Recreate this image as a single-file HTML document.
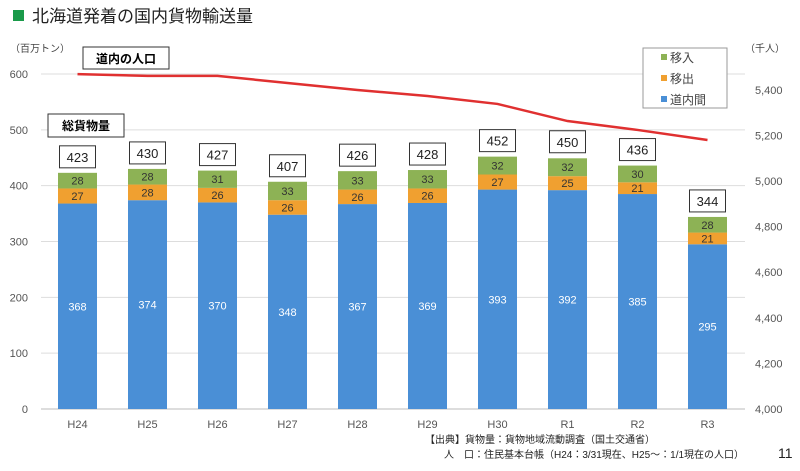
<!DOCTYPE html>
<html><head><meta charset="utf-8"><style>
body{margin:0;background:#fff;font-family:"Liberation Sans","Noto Sans CJK JP",sans-serif}
svg text{font-family:"Liberation Sans","Noto Sans CJK JP",sans-serif}
</style></head><body>
<svg id="c" width="800" height="466" xmlns="http://www.w3.org/2000/svg">
<rect x="13" y="10" width="11" height="11" fill="#1a9a4a"/>
<text x="32" y="22" font-size="17" fill="#222">北海道発着の国内貨物輸送量</text>
<text x="10" y="52" font-size="10" fill="#444">（百万トン）</text>
<text x="745" y="52" font-size="10" fill="#444">（千人）</text>
<g id="grid"></g><g id="bars"></g><g id="line"></g><g id="labels"></g>
<rect x="83" y="47" width="86" height="22" fill="#fff" stroke="#333"/>
<text x="126" y="63" font-size="12" font-weight="bold" text-anchor="middle">道内の人口</text>
<rect x="48" y="114" width="76" height="23" fill="#fff" stroke="#333"/>
<text x="86" y="130" font-size="12" font-weight="bold" text-anchor="middle">総貨物量</text>
<g>
<rect x="643" y="48" width="84" height="60" fill="#fff" stroke="#999"/>
<rect x="661" y="54" width="6" height="6" fill="#8db255"/><text x="670" y="62" font-size="12" fill="#444">移入</text>
<rect x="661" y="75" width="6" height="6" fill="#f0a030"/><text x="670" y="83" font-size="12" fill="#444">移出</text>
<rect x="661" y="96" width="6" height="6" fill="#4a8fd6"/><text x="670" y="104" font-size="12" fill="#444">道内間</text>
</g>
<text x="425" y="443" font-size="10" fill="#222">【出典】貨物量：貨物地域流動調査（国土交通省）</text>
<text x="444" y="458" font-size="10" fill="#222">人　口：住民基本台帳（H24：3/31現在、H25～：1/1現在の人口）</text>
<text x="778" y="458" font-size="14" fill="#222">11</text>
</svg>
<script>
const categories=["H24","H25","H26","H27","H28","H29","H30","R1","R2","R3"];
const inner=[368,374,370,348,367,369,393,392,385,295];
const outbound=[27,28,26,26,26,26,27,25,21,21];
const inbound=[28,28,31,33,33,33,32,32,30,28];
const totals=[423,430,427,407,426,428,452,450,436,344];
const population=[5469,5461,5461,5430,5399,5373,5338,5263,5224,5180];
const leftTicks=[0,100,200,300,400,500,600];
const rightTicks=[4000,4200,4400,4600,4800,5000,5200,5400];
const NS="http://www.w3.org/2000/svg";
const x0=42.5,band=70,bw=39;
const xc=i=>x0+band*(i+0.5);
const yL=v=>409-v*335/600;
const yR=v=>409-(v-4000)*45.6/200;
function mk(t,a,p){const e=document.createElementNS(NS,t);for(const k in a)e.setAttribute(k,a[k]);p.appendChild(e);return e;}
const g=document.getElementById('grid');
leftTicks.forEach(v=>{
 const l=mk('line',{x1:41,x2:745,y1:yL(v),y2:yL(v),stroke:v?'#ddd':'#bbb'},g);
 
 
 const t=mk('text',{x:28,y:yL(v)+4,'font-size':11,fill:'#555','text-anchor':'end'},g);t.textContent=v;
 
 
});
rightTicks.forEach(v=>{
 const t=mk('text',{x:755,y:yR(v)+4,'font-size':11,fill:'#555'},g);t.textContent=v.toLocaleString('en-US');
 
 
});
const b=document.getElementById('bars'),lb=document.getElementById('labels');
categories.forEach((c,i)=>{
 const x=xc(i)-bw/2;
 const segs=[[0,inner[i],'#4a8fd6','#fff','bar-inner'],[inner[i],outbound[i],'#f0a030','#333','bar-outbound'],[inner[i]+outbound[i],inbound[i],'#8db255','#333','bar-inbound']];
 segs.forEach(([s,v,col,tc,nm])=>{
  const r=mk('rect',{x:x,y:yL(s+v),width:bw,height:yL(s)-yL(s+v),fill:col},b);
  
  
  const ty=nm==='bar-inner'?yL(s+v/2)+4:(yL(s)+yL(s+v))/2+4;
  const t=mk('text',{x:xc(i),y:ty,'font-size':11,fill:tc,'text-anchor':'middle'},b);t.textContent=v;
  
  
 });
 const ty=yL(totals[i]);
 const r=mk('rect',{x:xc(i)-18,y:ty-27,width:36,height:22,fill:'#fff',stroke:'#333'},lb);
 
 
 const t=mk('text',{x:xc(i),y:ty-11,'font-size':13,fill:'#222','text-anchor':'middle'},lb);t.textContent=totals[i];
 
 
 const cl=mk('text',{x:xc(i),y:428,'font-size':11,fill:'#555','text-anchor':'middle'},lb);cl.textContent=c;
 
 
});
const pl=mk('polyline',{points:population.map((v,i)=>xc(i)+','+yR(v)).join(' '),fill:'none',stroke:'#e03030','stroke-width':2.5},document.getElementById('line'));


</script>
</body></html>
